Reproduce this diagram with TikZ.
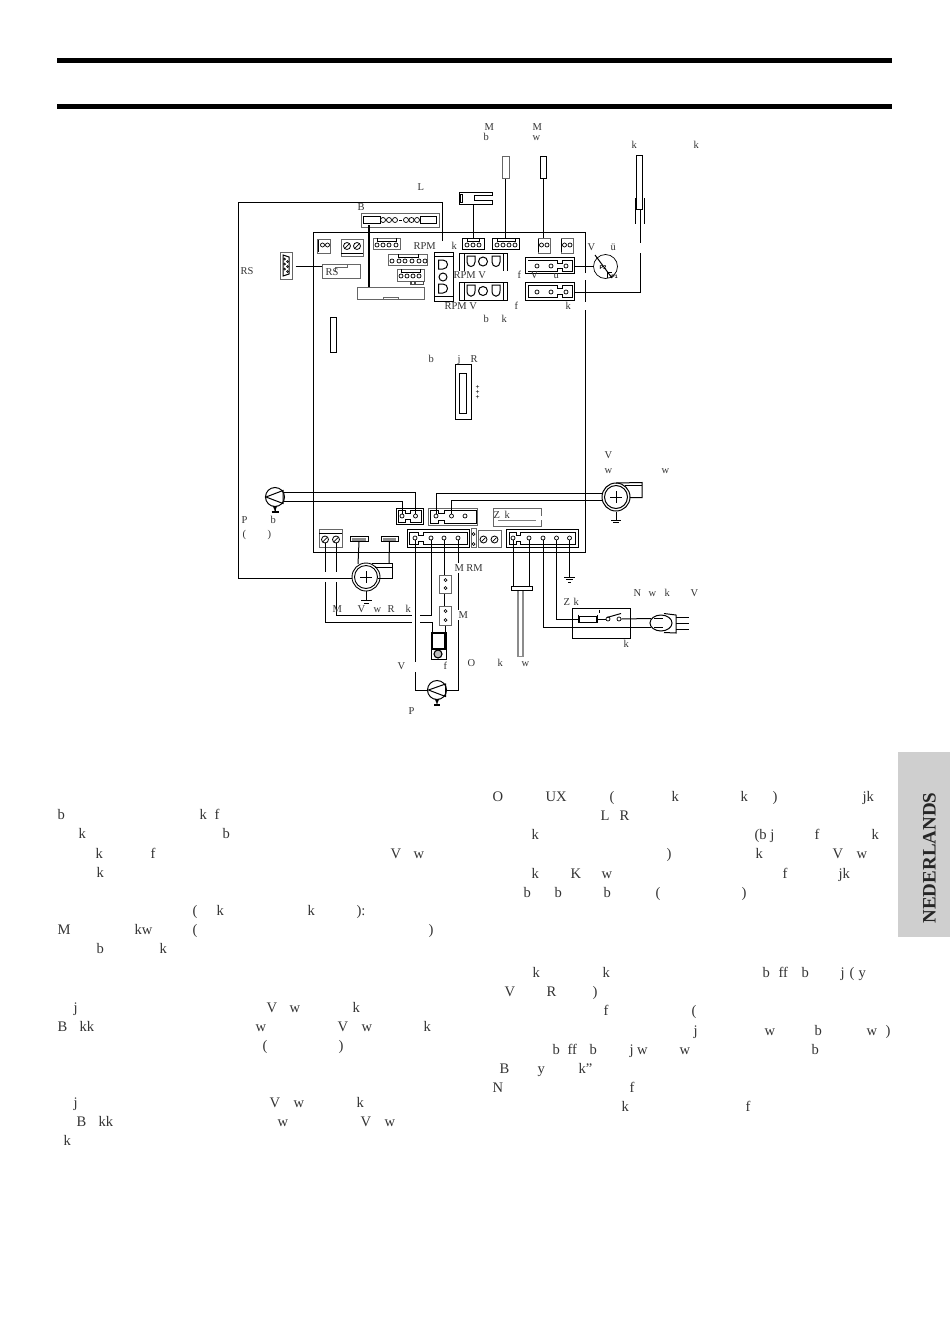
\documentclass[tikz,border=0pt]{standalone}
\usepackage{fontspec}
\usetikzlibrary{shapes.geometric}
\setmainfont{Liberation Serif}
\setsansfont{Liberation Sans}
\definecolor{ink}{gray}{0.2}
\definecolor{tab}{gray}{0.81}
\begin{document}
\begin{tikzpicture}[x=1pt,y=-1pt,line width=1pt,
	lbl/.style = {font=\fontsize{10.5}{12}\selectfont,text=ink,anchor=base west,inner sep=0pt},
	body/.style = {font=\fontsize{14.6}{18}\selectfont,text=ink,anchor=base west,inner sep=0pt},
	pin/.style = {circle,draw,inner sep=0pt,minimum size=4pt,line width=0.7pt},
	screw/.style = {circle,draw,inner sep=0pt,minimum size=7pt,line width=0.8pt},
	box/.style 2 args = {rectangle,draw,inner sep=0pt,minimum width=#1,minimum height=#2},
	grey/.style = {draw=black!60},
	round/.style = {circle,draw,inner sep=0pt,minimum size=#1}]
	\useasboundingbox (0,0) rectangle (950,1344);

	% header bars
	\fill (57,57.5) rectangle (892,62.5);
	\fill (57,103.5) rectangle (892,108.5);

	% language tab
	\fill[tab] (898,752) rectangle (950,937);
	\node[rotate=90,text=black!85,inner sep=0pt,font=\fontsize{19}{22}\bfseries\selectfont] (tabtext) at (929.5,858) {NEDERLANDS};

	% board outline
	\draw (585,273) -- (585,232) -- (313.5,232) -- (313.5,552) -- (585,552) -- (585,310);
	\draw (585,280) -- (585,302);

	% rs connector
	\node[box={12}{27},grey] (rs) at (286,265.5) {};
	\draw (283,255) -- (289,257) -- (289,274) -- (283,276) -- cycle;
	\node[pin,minimum size=2pt] (rsa) at (284.5,259) {};
	\node[pin,minimum size=2pt] (rsb) at (287.5,261.5) {};
	\node[pin,minimum size=2pt] (rsc) at (284.5,264) {};
	\node[pin,minimum size=2pt] (rsd) at (287.5,266.5) {};
	\node[pin,minimum size=2pt] (rse) at (284.5,269) {};
	\node[pin,minimum size=2pt] (rsf) at (287.5,271.5) {};
	\node[box={38}{14},grey] (rsbox) at (341,271) {};
	\draw[line width=.6pt,draw=black!60] (335,271) -- (335,267) -- (347,267) -- (347,264);
	\coordinate (rsa1) at (295.5,266);
	\draw (rsa1) -- (rsa1 -| rsbox.west);

	% bus connector
	\node[box={78}{14},grey] (bus) at (400,220) {};
	\node[box={17}{7}] (busa) at (371.5,220) {};
	\node[box={16}{7}] (busb) at (428,220) {};
	\node[pin,minimum size=5pt] (ba) at (383,220) {};
	\node[pin,minimum size=5pt] (bb) at (389,220) {};
	\node[pin,minimum size=5pt] (bc) at (395,220) {};
	\node[pin,minimum size=5pt] (bd) at (406,220) {};
	\node[pin,minimum size=5pt] (be) at (411.5,220) {};
	\node[pin,minimum size=5pt] (bf) at (417,220) {};
	\draw[line width=.8pt] (399,220) -- (402,220);
	\node[box={67}{12},grey] (lcd) at (390.5,293) {};
	\draw[line width=.6pt,draw=black!60] (383,299) -- (383,297) -- (398,297) -- (398,299);
	\draw[line width=2pt] (368.7,225) -- (368.7,287);

	% outer wire
	\node[round=28pt,line width=.9pt] (fana) at (366,577) {};
	\node[round=23pt,line width=.9pt] (fanb) at (366,577) {};
	\coordinate (oa) at (238,202);
	\coordinate (ob) at (442,202);
	\coordinate (oc) at (442,241);
	\coordinate (od) at (238,578);
	\draw (oc) -- (ob) -- (oa) -- (od) -- (fana.west |- od);

	% upper left connectors
	\node[box={13}{14},grey] (cona) at (323.5,246) {};
	\draw[line width=1.6pt] (318.5,240) -- (318.5,252);
	\node[pin] (caa) at (322.5,245) {};
	\node[pin] (cab) at (327.5,245) {};
	\node[box={22}{17},grey] (conb) at (352,247.5) {};
	\draw (341,253) -- (363,253);
	\node[screw] (cba) at (347,246) {};
	\node[screw] (cbb) at (357,246) {};
	\draw[line width=.7pt] (345,248) -- (349,244);
	\draw[line width=.7pt] (355,248) -- (359,244);
	\node[box={27}{11},grey] (conc) at (386.5,243.5) {};
	\draw[line width=.6pt] (377,238) -- (377,241) -- (396,241) -- (396,238);
	\node[pin] (cca) at (377,245) {};
	\node[pin] (ccb) at (383,245) {};
	\node[pin] (ccc) at (389,245) {};
	\node[pin] (ccd) at (396,245) {};
	\node[box={39}{11},grey] (cond) at (407.5,259.5) {};
	\draw[line width=.6pt] (398,254) -- (398,257) -- (418,257) -- (418,254);
	\node[pin] (cda) at (392,261) {};
	\node[pin] (cdb) at (399,261) {};
	\node[pin] (cdc) at (405,261) {};
	\node[pin] (cdd) at (412,261) {};
	\node[pin] (cde) at (419,261) {};
	\node[pin] (cdf) at (425,261) {};
	\node[box={27}{12},grey] (cone) at (410.5,275) {};
	\draw[line width=.6pt] (401,269) -- (401,272) -- (420,272) -- (420,269);
	\node[pin] (cea) at (401,276) {};
	\node[pin] (ceb) at (407,276) {};
	\node[pin] (cec) at (413,276) {};
	\node[pin] (ced) at (419,276) {};
	\fill[black!70] (410,281) rectangle (424,285);
	\fill[white] (412,282) rectangle (414,284);
	\fill[white] (416,282) rectangle (423,283.5);

	% bar left
	\node[box={6}{35}] (barl) at (333,334.5) {};

	% big vertical connector
	\node[box={19}{49}] (rpm) at (443.5,276.5) {};
	\draw (434,256.5) -- (453,256.5);
	\draw (434,296.5) -- (453,296.5);
	\draw (438.5,260) -- (443,260) .. controls (449,260) and (449,269) .. (443,269) -- (438.5,269) -- cycle;
	\node[round=8pt] (rpmc) at (443,277) {};
	\draw (438.5,284) -- (443,284) .. controls (449,284) and (449,293) .. (443,293) -- (438.5,293) -- cycle;

	% rpm valve upper
	\draw (459,271) -- (459,253.5) -- (507,253.5) -- (507,271);
	\draw (464,254) -- (464,271);
	\draw (503,254) -- (503,271);
	\draw (467,256) -- (475,256) -- (475,262) .. controls (475,268) and (467,268) .. (467,262) -- cycle;
	\node[round=9pt] (rvc) at (483,261.5) {};
	\draw (492,256) -- (500,256) -- (500,262) .. controls (500,268) and (492,268) .. (492,262) -- cycle;
	% rpm valve lower
	\node[box={48}{18}] (rvb) at (483,291.5) {};
	\draw (464,283) -- (464,300);
	\draw (503,283) -- (503,300);
	\draw (467,285) -- (475,285) -- (475,291) .. controls (475,298) and (467,298) .. (467,291) -- cycle;
	\node[round=9pt] (rvd) at (483,291) {};
	\draw (492,285) -- (500,285) -- (500,291) .. controls (500,298) and (492,298) .. (492,291) -- cycle;

	% top row connectors
	\node[box={22}{11}] (cong) at (473,243.5) {};
	\draw[line width=.6pt] (467,238) -- (467,241) -- (479,241) -- (479,238);
	\node[pin] (cga) at (467,245) {};
	\node[pin] (cgb) at (473,245) {};
	\node[pin] (cgc) at (479,245) {};
	\node[box={27}{11}] (conh) at (505.5,243.5) {};
	\draw[line width=.6pt] (497,238) -- (497,241) -- (515,241) -- (515,238);
	\node[pin] (cha) at (497,245) {};
	\node[pin] (chb) at (503,245) {};
	\node[pin] (chc) at (509,245) {};
	\node[pin] (chd) at (515,245) {};
	\node[box={12}{15},grey] (coni) at (544,245.5) {};
	\draw[line width=1.5pt] (538.7,239) -- (538.7,252);
	\node[pin] (cia) at (541.5,245) {};
	\node[pin] (cib) at (547,245) {};
	\node[box={12}{15},grey] (conj) at (567,245.5) {};
	\draw[line width=1.5pt] (561.7,239) -- (561.7,252);
	\node[pin] (cja) at (564.5,245) {};
	\node[pin] (cjb) at (570,245) {};

	% sensors on top
	\draw (459,192) -- (492,192) -- (492,195.5) -- (474,195.5) -- (474,200.5) -- (492,200.5) -- (492,204) -- (459,204) -- cycle;
	\draw[line width=.7pt] (460,194) rectangle (462,202);
	\coordinate (hook) at (473,204);
	\draw (hook) -- (hook |- cong.north);
	\node[box={7}{22},grey] (mb) at (505.5,167.5) {};
	\draw (mb.south) -- (mb.south |- conh.north);
	\node[box={6}{22}] (mw) at (543.5,167.5) {};
	\draw (mw.south) -- (mw.south |- coni.north);

	% flue sensor
	\node[box={6}{54}] (flue) at (639,182) {};
	\draw (635,198) -- (635,224);
	\draw (644,198) -- (644,224);
	\coordinate (fa) at (640.5,243);
	\coordinate (fb) at (640.5,253);
	\coordinate (fc) at (640.5,292);
	\draw (640.5,209) -- (fa);

	% right connectors
	\node[box={49}{16}] (conk) at (549.5,265) {};
	\draw[line width=.8pt] (528,260) -- (557.5,260) -- (557.5,263) -- (562,263) -- (562,260) -- (572,260) -- (572,271) -- (562,271) -- (562,268) -- (557.5,268) -- (557.5,271) -- (528,271);
	\node[pin] (cka) at (537,266) {};
	\node[pin] (ckb) at (551,266) {};
	\node[pin] (ckc) at (566,266) {};
	\node[box={49}{18}] (conl) at (549.5,291) {};
	\draw[line width=.8pt] (528,285.5) -- (557.5,285.5) -- (557.5,288.5) -- (562,288.5) -- (562,285.5) -- (572,285.5) -- (572,297.5) -- (562,297.5) -- (562,294) -- (557.5,294) -- (557.5,297.5) -- (528,297.5) -- cycle;
	\node[pin] (cla) at (537,292) {};
	\node[pin] (clb) at (551,292) {};
	\node[pin] (clc) at (566,292) {};
	\draw (fb) -- (fc) -- (conl.east |- fc);
	\node[round=24pt,line width=.7pt] (press) at (605.5,266.5) {};
	\draw (press.west) -- (press.west -| conk.east);
	\draw (595,255) -- (612,278);
	\draw[line width=.7pt] (607,272) -- (607,278);
	\draw[line width=.7pt] (607,272) -- (612,272);
	\node[inner sep=0pt,font=\sffamily\bfseries\fontsize{5.5}{6}\selectfont] (psa) at (603,267.5) {P2};
	\node[inner sep=0pt,font=\sffamily\bfseries\fontsize{5}{6}\selectfont] (psb) at (614.5,277) {P1};

	% centre connector
	\node[box={16}{55}] (cenout) at (463.5,392) {};
	\node[box={7}{40}] (cenin) at (463,393) {};
	\node[inner sep=0pt,font=\fontsize{7}{7}\bfseries\selectfont] (ta) at (477.5,387.5) {+};
	\node[inner sep=0pt,font=\fontsize{7}{7}\bfseries\selectfont] (tb) at (477.5,392.5) {+};
	\node[inner sep=0pt,font=\fontsize{7}{7}\bfseries\selectfont] (tc) at (477.5,397.5) {+};

	% lower board connectors
	\node[box={27}{16}] (conm) at (409.5,516) {};
	\draw[line width=.8pt] (398.5,510) -- (405,510) -- (405,513) -- (410,513) -- (410,510) -- (421.5,510) -- (421.5,522) -- (410,522) -- (410,519) -- (405,519) -- (405,522) -- (398.5,522) -- cycle;
	\node[pin] (cma) at (402,516) {};
	\node[pin] (cmb) at (415.5,516) {};
	\node[box={49}{17},grey] (conn) at (452.5,516.5) {};
	\draw (430,510) -- (438,510) -- (438,513) -- (444,513) -- (444,510) -- (476,510) -- (476,523) -- (444,523) -- (444,520) -- (438,520) -- (438,523) -- (430,523) -- cycle;
	\node[pin] (cna) at (436,516) {};
	\node[pin] (cnb) at (451.5,516) {};
	\node[pin] (cnc) at (465,516) {};
	\node[box={62}{18}] (cono) at (438,538) {};
	\draw[line width=.8pt] (409,532) -- (418,532) -- (418,535) -- (423,535) -- (423,532) -- (467,532) -- (467,544) -- (423,544) -- (423,541) -- (418,541) -- (418,544) -- (409,544) -- cycle;
	\node[pin] (coa) at (415,538) {};
	\node[pin] (cob) at (431,538) {};
	\node[pin] (coc) at (444,538) {};
	\node[pin] (cod) at (458,538) {};
	\node[box={5}{19},grey] (fuseb) at (473.5,538) {};
	\node[pin,minimum size=3pt] (fua) at (473.5,534) {};
	\node[pin,minimum size=3pt] (fub) at (473.5,544) {};
	\node[box={23}{18},grey] (conp) at (330.5,538) {};
	\draw (319,533.5) -- (342,533.5);
	\node[screw] (cpa) at (325,539.5) {};
	\node[screw] (cpb) at (336,539.5) {};
	\draw[line width=.7pt] (323,541.5) -- (327,537.5);
	\draw[line width=.7pt] (334,541.5) -- (338,537.5);
	\node[box={18}{5}] (conq) at (359,539) {};
	\fill[black!45] (352,537.5) rectangle (366,540.5);
	\node[box={17}{5}] (conr) at (389.5,539) {};
	\fill[black!45] (383,537.5) rectangle (396,540.5);
	\node[box={23}{17},grey] (cons) at (489.5,538.5) {};
	\node[screw] (csa) at (483.5,539.5) {};
	\node[screw] (csb) at (494.5,539.5) {};
	\draw[line width=.7pt] (481.5,541.5) -- (485.5,537.5);
	\draw[line width=.7pt] (492.5,541.5) -- (496.5,537.5);
	\node[box={72}{18}] (cont) at (542,538) {};
	\draw[line width=.8pt] (509,532) -- (516,532) -- (516,535) -- (520,535) -- (520,532) -- (575.5,532) -- (575.5,544.5) -- (520,544.5) -- (520,541) -- (516,541) -- (516,544.5) -- (509,544.5) -- cycle;
	\node[pin] (cta) at (513,538) {};
	\node[pin] (ctb) at (529,538) {};
	\node[pin] (ctc) at (543,538) {};
	\node[pin] (ctd) at (556.5,538) {};
	\node[pin] (cte) at (569.5,538) {};
	% ignition box
	\draw[draw=black!60] (541,516) -- (541,508) -- (493,508) -- (493,526) -- (541,526) -- (541,520);
	\draw[draw=black!50,line width=.6pt] (498,520) -- (536,520);

	% pump burner
	\node[round=19pt] (pumpb) at (275,497) {};
	\draw (266,497) -- (283,490.5) -- (283,503.5) -- cycle;
	\coordinate (pba) at (283.5,492);
	\coordinate (pbb) at (283.5,501);
	\draw (pba) -- (cmb |- pba) -- (cmb);
	\draw (pbb) -- (cma |- pbb) -- (cma);
	\coordinate (pbg) at (275,511);
	\draw (pumpb.south) -- (pbg);
	\draw[-latex] (275,508) -- (275,512);
	\draw[line width=1.2pt] (271.5,512) -- (278.5,512);

	% fan right
	\node[round=28pt] (fanc) at (616,497) {};
	\node[round=23pt] (fand) at (616,497) {};
	\draw (610,497) -- (622,497);
	\draw (616,491) -- (616,503);
	\draw (616,483) -- (642,482.5) -- (642,497.5) -- (630,497.5);
	\draw (625,485) -- (642,485);
	\draw (cna) |- (fanc.west |- 0,493);
	\draw (cnb) |- (fanc.west |- 0,500.5);
	\coordinate (fcg) at (616,520);
	\draw (fanc.south) -- (fcg);
	\draw (611,520) -- (621,520);
	\draw[line width=.7pt] (613,522.5) -- (619,522.5);

	% fan left
	\draw (360,577) -- (372,577);
	\draw (366,571) -- (366,583);
	\draw (372,563) -- (392,563) -- (392,578) -- (378,578);
	\draw (375,567) -- (392,567);
	\coordinate (flg) at (366,600);
	\draw (fana.south) -- (flg);
	\draw (361,600.5) -- (372,600.5);
	\draw[line width=.7pt] (364,603) -- (369,603);
	\draw (conq.south) -- (358,564);
	\draw (conr.south) -- (389,563);

	% wires from screw terminal
	\coordinate (sa) at (325,572);
	\coordinate (sb) at (325,582);
	\coordinate (sc) at (325,622);
	\coordinate (sd) at (412,622);
	\coordinate (se) at (420,622);
	\coordinate (sf) at (432,622);
	\coordinate (sg) at (336,572);
	\coordinate (sh) at (336,582);
	\coordinate (si) at (336,615);
	\coordinate (sj) at (412,615);
	\coordinate (sk) at (420,615);
	\draw (cpa) -- (sa);
	\draw (sb) -- (sc) -- (sd);
	\draw (cpb) -- (sg);
	\draw (sh) -- (si) -- (sj);
	\draw (sk) -| (cob);

	% valves
	\node[box={12}{18},grey] (vala) at (445,584) {};
	\node[pin,minimum size=3pt] (vaa) at (445.5,580) {};
	\node[pin,minimum size=3pt] (vab) at (445.5,588) {};
	\node[box={12}{19},grey] (valb) at (445,615.5) {};
	\node[pin,minimum size=3pt] (vba) at (445.5,611) {};
	\node[pin,minimum size=3pt] (vbb) at (445.5,620) {};
	\draw (coc) -- (vala.north -| coc);
	\draw (vala.south -| coc) -- (valb.north -| coc);
	\node[box={15}{27}] (gas) at (438.5,645.5) {};
	\draw[line width=1.5pt] (432,633) rectangle (445,649);
	\node[round=8pt,line width=1.1pt,fill=black!25] (gasc) at (438,654) {};
	\draw (se) -- (sf) -- (gas.north -| sf);
	\draw (valb.south -| 445,0) -- (445,633);

	% pump lower
	\node[round=19pt] (pumpp) at (437,690) {};
	\draw (428.5,690) -- (445.5,684) -- (445.5,696.5) -- cycle;
	\coordinate (va) at (415,662);
	\coordinate (vb) at (415,672);
	\coordinate (vc) at (415,690);
	\draw (coa) -- (va);
	\draw (vb) -- (vc) -- (pumpp.west);
	\coordinate (ma) at (458,563);
	\coordinate (mb2) at (458,573);
	\coordinate (mc) at (458,610);
	\coordinate (md) at (458,620);
	\coordinate (me) at (458,690);
	\draw (cod) -- (ma);
	\draw (mb2) -- (mc);
	\draw (md) -- (me) -- (pumpp.east);
	\draw[-latex] (437,699.5) -- (437,705);
	\draw[line width=1.2pt] (434,705) -- (440,705);

	% thermo probe
	\coordinate (pra) at (513,587);
	\coordinate (prb) at (529,587);
	\draw (cta) -- (pra);
	\draw (ctb) -- (prb);
	\node[box={21}{3.5}] (prbar) at (522,588.7) {};
	\fill[black!45] (517,590.5) rectangle (523.5,657);
	\fill[white] (518.5,590.5) rectangle (522,656);

	% ground on board
	\coordinate (tg) at (569.5,577);
	\draw (cte) -- (tg);
	\draw (564,577) -- (575,577);
	\draw[line width=.7pt] (566,579.5) -- (573,579.5);
	\draw[line width=.7pt] (568,582) -- (571,582);

	% main box
	\node[box={58}{30}] (mains) at (601,623) {};
	\node[box={17}{6}] (fusem) at (587.5,619) {};
	\draw (578,614.5) -- (578,623);
	\draw (597.5,614.5) -- (597.5,623);
	\node[pin] (swa) at (608,619) {};
	\node[pin] (swb) at (619,619) {};
	\draw (607,617.5) -- (621,613.5);
	\draw[line width=.5pt] (599.5,609.5) -- (599.5,612.5);
	\draw (ctd) |- (fusem.west);
	\draw (fusem.east) -- (swa);
	\coordinate (pla) at (651,618.5);
	\coordinate (plb) at (651,627);
	\draw (swb.east) -- (pla);
	\draw (ctc) |- (plb);

	% plug
	\node[ellipse,draw,inner sep=0pt,minimum width=22pt,minimum height=16pt] (plug) at (661,623) {};
	\draw (664,613.5) -- (676,615) -- (676,633) -- (664,632.5);
	\draw[line width=.7pt] (654,618) -- (663,618);
	\draw[line width=.7pt] (654,627) -- (663,627);
	\draw (676,617) -- (689,617);
	\draw (676,623) -- (689,623);
	\draw (676,629) -- (689,629);

	% diagram labels
	\node[lbl] (l1) at (484,130) {M};
	\node[lbl] (l2) at (483,140) {b};
	\node[lbl] (l3) at (532,130) {M};
	\node[lbl] (l4) at (532,140) {w};
	\node[lbl] (l5) at (631,148) {k};
	\node[lbl] (l6) at (693,148) {k};
	\node[lbl] (l7) at (417,190) {L};
	\node[lbl] (l8) at (357,210) {B};
	\node[lbl] (l9) at (240,274) {RS};
	\node[lbl] (l10) at (413,249) {RPM};
	\node[lbl] (l11) at (451,249) {k};
	\node[lbl] (l12) at (325,275) {RS};
	\node[lbl] (l13) at (453,278) {RPM V};
	\node[lbl] (l14) at (444,309) {RPM V};
	\node[lbl] (l15) at (517,278) {f};
	\node[lbl] (l16) at (530,278) {V};
	\node[lbl] (l17) at (553,278) {u};
	\node[lbl] (l18) at (587,250) {V};
	\node[lbl] (l19) at (610,250) {ü};
	\node[lbl] (l20) at (514,309) {f};
	\node[lbl] (l21) at (565,309) {k};
	\node[lbl] (l22) at (483,322) {b};
	\node[lbl] (l23) at (501,322) {k};
	\node[lbl] (l24) at (428,362) {b};
	\node[lbl] (l25) at (457,362) {j};
	\node[lbl] (l26) at (470,362) {R};
	\node[lbl] (l27) at (604,458) {V};
	\node[lbl] (l28) at (604,473) {w};
	\node[lbl] (l29) at (661,473) {w};
	\node[lbl] (l30) at (493,518) {Z};
	\node[lbl] (l31) at (504,518) {k};
	\node[lbl] (l32) at (241,523) {P};
	\node[lbl] (l33) at (270,523) {b};
	\node[lbl] (l34) at (242,537) {(};
	\node[lbl] (l35) at (267,537) {)};
	\node[lbl] (l36) at (454,571) {M RM};
	\node[lbl] (l37) at (332,612) {M};
	\node[lbl] (l38) at (357,612) {V};
	\node[lbl] (l39) at (373,612) {w};
	\node[lbl] (l40) at (387,612) {R};
	\node[lbl] (l41) at (405,612) {k};
	\node[lbl] (l42) at (458,618) {M};
	\node[lbl] (l43) at (397,669) {V};
	\node[lbl] (l44) at (443,669) {f};
	\node[lbl] (l45) at (467,666) {O};
	\node[lbl] (l46) at (497,666) {k};
	\node[lbl] (l47) at (521,666) {w};
	\node[lbl] (l48) at (408,714) {P};
	\node[lbl] (l49) at (563,605) {Z};
	\node[lbl] (l50) at (573,605) {k};
	\node[lbl] (l51) at (633,596) {N};
	\node[lbl] (l52) at (648,596) {w};
	\node[lbl] (l53) at (664,596) {k};
	\node[lbl] (l54) at (690,596) {V};
	\node[lbl] (l55) at (623,647) {k};

	% left column
	\node[body] (a1) at (57,819) {b};
	\node[body] (a2) at (199,819) {k};
	\node[body] (a3) at (214,819) {f};
	\node[body] (a4) at (78,838) {k};
	\node[body] (a5) at (222,838) {b};
	\node[body] (a6) at (95,858) {k};
	\node[body] (a7) at (150,858) {f};
	\node[body] (a8) at (390,858) {V};
	\node[body] (a9) at (413,858) {w};
	\node[body] (a10) at (96,877) {k};
	\node[body] (a11) at (192,915) {(};
	\node[body] (a12) at (216,915) {k};
	\node[body] (a13) at (307,915) {k};
	\node[body] (a14) at (356,915) {):};
	\node[body] (a15) at (57,934) {M};
	\node[body] (a16) at (134,934) {kw};
	\node[body] (a17) at (192,934) {(};
	\node[body] (a18) at (428,934) {)};
	\node[body] (a19) at (96,953) {b};
	\node[body] (a20) at (159,953) {k};
	\node[body] (a21) at (73,1012) {j};
	\node[body] (a22) at (266,1012) {V};
	\node[body] (a23) at (289,1012) {w};
	\node[body] (a24) at (352,1012) {k};
	\node[body] (a25) at (57,1031) {B};
	\node[body] (a26) at (79,1031) {kk};
	\node[body] (a27) at (255,1031) {w};
	\node[body] (a28) at (337,1031) {V};
	\node[body] (a29) at (361,1031) {w};
	\node[body] (a30) at (423,1031) {k};
	\node[body] (a31) at (262,1050) {(};
	\node[body] (a32) at (338,1050) {)};
	\node[body] (a33) at (73,1107) {j};
	\node[body] (a34) at (269,1107) {V};
	\node[body] (a35) at (293,1107) {w};
	\node[body] (a36) at (356,1107) {k};
	\node[body] (a37) at (76,1126) {B};
	\node[body] (a38) at (98,1126) {kk};
	\node[body] (a39) at (277,1126) {w};
	\node[body] (a40) at (360,1126) {V};
	\node[body] (a41) at (384,1126) {w};
	\node[body] (a42) at (63,1145) {k};

	% right column
	\node[body] (b1) at (492,801) {O};
	\node[body] (b2) at (545,801) {UX};
	\node[body] (b3) at (609,801) {(};
	\node[body] (b4) at (671,801) {k};
	\node[body] (b5) at (740,801) {k};
	\node[body] (b6) at (772,801) {)};
	\node[body] (b7) at (862,801) {jk};
	\node[body] (b8) at (600,820) {L};
	\node[body] (b9) at (619,820) {R};
	\node[body] (b10) at (531,839) {k};
	\node[body] (b11) at (754,839) {(b j};
	\node[body] (b12) at (814,839) {f};
	\node[body] (b13) at (871,839) {k};
	\node[body] (b14) at (666,858) {)};
	\node[body] (b15) at (755,858) {k};
	\node[body] (b16) at (832,858) {V};
	\node[body] (b17) at (856,858) {w};
	\node[body] (b18) at (531,878) {k};
	\node[body] (b19) at (570,878) {K};
	\node[body] (b20) at (601,878) {w};
	\node[body] (b21) at (782,878) {f};
	\node[body] (b22) at (838,878) {jk};
	\node[body] (b23) at (523,897) {b};
	\node[body] (b24) at (554,897) {b};
	\node[body] (b25) at (603,897) {b};
	\node[body] (b26) at (655,897) {(};
	\node[body] (b27) at (741,897) {)};
	\node[body] (b28) at (532,977) {k};
	\node[body] (b29) at (602,977) {k};
	\node[body] (b30) at (762,977) {b};
	\node[body] (b31) at (778,977) {ff};
	\node[body] (b32) at (801,977) {b};
	\node[body] (b33) at (840,977) {j};
	\node[body] (b34) at (849,977) {(};
	\node[body] (b35) at (858,977) {y};
	\node[body] (b36) at (504,996) {V};
	\node[body] (b37) at (546,996) {R};
	\node[body] (b38) at (592,996) {)};
	\node[body] (b39) at (603,1015) {f};
	\node[body] (b40) at (691,1015) {(};
	\node[body] (b41) at (693,1035) {j};
	\node[body] (b42) at (764,1035) {w};
	\node[body] (b43) at (814,1035) {b};
	\node[body] (b44) at (866,1035) {w};
	\node[body] (b45) at (885,1035) {)};
	\node[body] (b46) at (552,1054) {b};
	\node[body] (b47) at (567,1054) {ff};
	\node[body] (b48) at (589,1054) {b};
	\node[body] (b49) at (629,1054) {j w};
	\node[body] (b50) at (679,1054) {w};
	\node[body] (b51) at (811,1054) {b};
	\node[body] (b52) at (499,1073) {B};
	\node[body] (b53) at (537,1073) {y};
	\node[body] (b54) at (578,1073) {k”};
	\node[body] (b55) at (492,1092) {N};
	\node[body] (b56) at (629,1092) {f};
	\node[body] (b57) at (621,1111) {k};
	\node[body] (b58) at (745,1111) {f};
\end{tikzpicture}
\end{document}
